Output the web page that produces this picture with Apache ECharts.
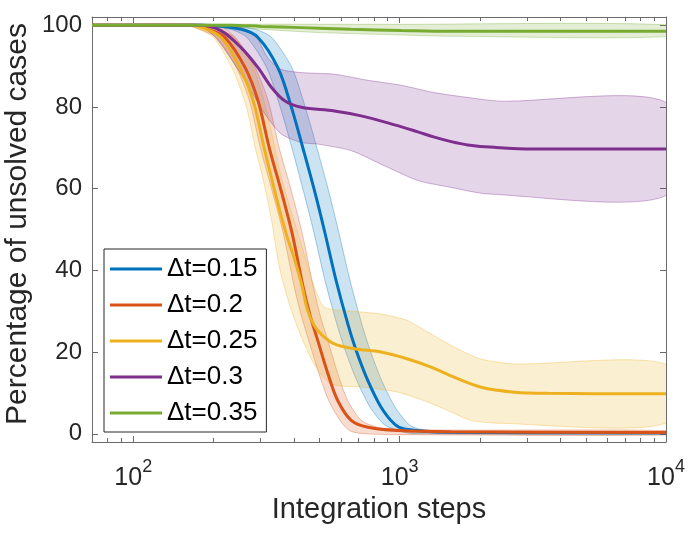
<!DOCTYPE html>
<html>
<head>
<meta charset="utf-8">
<script src="https://cdn.jsdelivr.net/npm/echarts@6/dist/echarts.min.js"></script>
<style>html,body{margin:0;padding:0;background:#fff}#chart{width:688px;height:537px}</style>
</head>
<body>
<div id="chart"></div>
<script>
// ---- tick values ----
const xTicksMajor = [100, 1000, 10000];
const xTicksMinor = [80, 90, 200, 300, 400, 500, 600, 700, 800, 900, 2000, 3000, 4000, 5000, 6000, 7000, 8000, 9000];
const yTicks = [0, 20, 40, 60, 80, 100];

// ---- series names ----
const seriesNames = ['Δt=0.15', 'Δt=0.2', 'Δt=0.25', 'Δt=0.3', 'Δt=0.35'];

// ---- Δt=0.15 (mean, upper, lower) : [integration steps, % unsolved] ----
const mean015 = [[70,100],[180,100],[254,99],[294,97],[349,89.6],[392,80],[433,70],[479,59.5],[522,49.7],[578,37.4],[639,26.9],[687,20.4],[760,13],[852,6.5],[956,2.4],[1042,1.2],[1494,0.4],[10000,0.2]];
const upper015 = [[70,100],[233,100],[287,99],[331,97],[394,89.6],[442,80],[489,70],[541,59.5],[589,49.7],[652,37.4],[721,26.9],[775,20.4],[857,13],[962,6.5],[1079,2.4],[1177,1.2],[1494,0.6],[10000,0.5]];
const lower015 = [[70,100],[165,100],[231,99],[267,97],[317,89.6],[356,80],[394,70],[435,59.5],[475,49.7],[525,37.4],[581,26.9],[625,20.4],[691,13],[775,6.5],[869,2.4],[945,1.2],[1105,0.1],[10000,0]];

// ---- Δt=0.2 ----
const mean020 = [[70,100],[172,100],[191,99],[221,97],[263,89.6],[294,81.5],[324,70],[359,59.5],[395,49],[434,36],[461,29],[493,22.8],[538,14.7],[586,8.1],[658,3.3],[760,1.6],[984,0.8],[1561,0.5],[10000,0.3]];
const upper020 = [[70,100],[190,100],[208,99],[241,97],[287,89.6],[321,81.5],[353,70],[392,59.5],[431,49],[474,36],[503,29],[538,22.8],[586,14.7],[639,8.1],[717,3.3],[828,1.6],[1013,1.1],[1561,0.9],[10000,0.8]];
const lower020 = [[70,100],[160,100],[177,99],[205,97],[244,89.6],[273,81.5],[300,70],[332,59.5],[366,49],[402,36],[427,29],[456,22.8],[498,14.7],[542,8.1],[609,2.5],[658,0.6],[749,0],[1013,-0.2],[10000,-0.3]];

// ---- Δt=0.25 ----
const mean025 = [[70,100],[165,100],[180,99.5],[214,97],[254,89],[282,81.5],[310,70],[344,58],[375,49],[402,43],[427,37],[452,30.1],[478,26.5],[507,24.4],[569,22],[677,20.8],[852,20],[1073,18.3],[1313,16.3],[1606,13.8],[2022,11.4],[2697,10.2],[3598,9.9],[10000,9.8]];
const upper025 = [[70,100],[205,100],[233,98],[273,92],[308,82],[335,72],[359,63],[381,57],[427,46.5],[479,35.8],[522,31],[639,30.1],[852,29.3],[1073,27.7],[1313,24.4],[1606,21.2],[2022,18.3],[2697,17.1],[10000,17]];
const lower025 = [[70,100],[150,100],[168,99.5],[200,97],[237,89],[266,80],[287,70],[308,62],[331,52],[353,41],[382,32.6],[420,25],[478,17],[553,12.2],[738,11.4],[984,10.2],[1239,8.1],[1517,5.7],[1855,3.3],[2336,2.6],[10000,2.6]];

// ---- Δt=0.3 ----
const mean030 = [[70,100],[180,100],[214,98.6],[254,94.5],[294,89.6],[331,84.7],[370,81.5],[427,79.9],[569,79],[717,77.8],[903,76.1],[1170,73.9],[1351,72.6],[1561,71.5],[1803,70.7],[2268,70.1],[3205,69.7],[10000,69.7]];
const upper030 = [[70,100],[220,100],[254,99.5],[290,97],[320,92],[359,89.2],[427,88.4],[568,88],[762,86.5],[1013,85.3],[1348,83.5],[1807,82.3],[2404,81.4],[10000,81.1]];
const lower030 = [[70,100],[170,100],[201,97.4],[254,88],[310,78.6],[359,73.4],[427,71.3],[493,70.9],[658,69.3],[877,65.6],[1170,62],[1561,60.3],[2143,58.7],[10000,58.3]];

// ---- Δt=0.35 ----
const mean035 = [[70,100],[233,100],[302,99.7],[427,99.4],[658,99],[1013,98.7],[1561,98.5],[10000,98.5]];
const upper035 = [[70,100.2],[1000,100.2],[10000,100.1]];
const lower035 = [[70,99.9],[214,99.8],[302,99],[500,98.2],[1013,97.6],[1561,97.3],[10000,97.2]];

const colors = ['#0072BD', '#D95319', '#EDB120', '#7E2F8E', '#77AC30'];
const means = [mean015, mean020, mean025, mean030, mean035];
const uppers = [upper015, upper020, upper025, upper030, upper035];
const lowers = [lower015, lower020, lower025, lower030, lower035];

const X_MIN = 70, X_MAX = 10000, Y_MIN = -2, Y_MAX = 102;
const FONT = "'Liberation Sans', Arial, Helvetica, sans-serif";
const AXIS_COLOR = '#6b6b6b';
const TEXT_COLOR = '#262626';

function rgba(hex, a) {
  const n = parseInt(hex.slice(1), 16);
  return 'rgba(' + ((n >> 16) & 255) + ',' + ((n >> 8) & 255) + ',' + (n & 255) + ',' + a + ')';
}

function bandSeries(upper, lower, color) {
  return {
    type: 'custom',
    silent: true,
    clip: true,
    xAxisIndex: 0, yAxisIndex: 0,
    data: [upper[0]],
    renderItem: function (params, api) {
      const pts = upper.map(p => api.coord(p)).concat(lower.slice().reverse().map(p => api.coord(p)));
      return {
        type: 'polygon',
        shape: { points: pts, smooth: 0.25 },
        style: { fill: rgba(color, 0.2), stroke: rgba(color, 0.35), lineWidth: 1 }
      };
    }
  };
}

const series = [];
for (let i = 0; i < 5; i++) {
  series.push(bandSeries(uppers[i], lowers[i], colors[i]));
  series.push({
    type: 'line',
    name: seriesNames[i],
    data: means[i],
    showSymbol: false,
    symbol: 'none',
    smooth: 0.35,
    lineStyle: { width: 3, color: colors[i] },
    itemStyle: { color: colors[i] },
    emphasis: { disabled: true }
  });
}
// minor ticks of the log axis (bottom and top)
series.push({
  type: 'custom',
  silent: true,
  xAxisIndex: 0, yAxisIndex: 0,
  z: 10,
  data: xTicksMinor.map(v => [v, Y_MIN]),
  renderItem: function (params, api) {
    const v = api.value(0);
    const b = api.coord([v, Y_MIN]);
    const t = api.coord([v, Y_MAX]);
    const x = Math.round(b[0]) + 0.5;
    return {
      type: 'group',
      children: [
        { type: 'line', shape: { x1: x, y1: b[1], x2: x, y2: b[1] - 4 }, style: { stroke: AXIS_COLOR, lineWidth: 1 } },
        { type: 'line', shape: { x1: x, y1: t[1], x2: x, y2: t[1] + 4 }, style: { stroke: AXIS_COLOR, lineWidth: 1 } }
      ]
    };
  }
});

function logLabel(value) {
  const e = Math.round(Math.log10(value));
  if (Math.abs(Math.log10(value) - e) > 1e-6 || xTicksMajor.indexOf(Math.pow(10, e)) < 0) return '';
  return '{b|10}{s|' + e + '}';
}

const baseX = {
  type: 'log', logBase: 10, min: X_MIN, max: X_MAX,
  splitLine: { show: false }, minorTick: { show: false }, minorSplitLine: { show: false },
  axisLine: { show: true, onZero: false, lineStyle: { color: AXIS_COLOR, width: 1 } },
  axisTick: { show: true, inside: true, length: 6, lineStyle: { color: AXIS_COLOR, width: 1 } }
};
const baseY = {
  type: 'value', min: Y_MIN, max: Y_MAX, splitNumber: 5,
  splitLine: { show: false },
  axisLine: { show: true, onZero: false, lineStyle: { color: AXIS_COLOR, width: 1 } },
  axisTick: { show: true, inside: true, length: 6, customValues: yTicks, lineStyle: { color: AXIS_COLOR, width: 1 } }
};

const option = {
  animation: false,
  backgroundColor: '#ffffff',
  textStyle: { fontFamily: FONT },
  grid: { left: 92, right: 22, top: 17, bottom: 95, containLabel: false, outerBoundsMode: 'none' },
  xAxis: [
    Object.assign({}, baseX, {
      position: 'bottom',
      name: 'Integration steps',
      nameLocation: 'middle',
      nameGap: 49,
      nameTextStyle: { fontSize: 29, color: TEXT_COLOR, fontFamily: FONT },
      axisLabel: {
        show: true, margin: 16, showMinLabel: false, showMaxLabel: true,
        formatter: logLabel,
        rich: {
          b: { fontSize: 25, fontFamily: FONT, color: TEXT_COLOR, lineHeight: 33, verticalAlign: 'bottom' },
          s: { fontSize: 18, fontFamily: FONT, color: TEXT_COLOR, lineHeight: 6, verticalAlign: 'top' }
        }
      }
    }),
    Object.assign({}, baseX, { position: 'top', axisLabel: { show: false } })
  ],
  yAxis: [
    Object.assign({}, baseY, {
      position: 'left',
      axisLabel: {
        show: true, customValues: yTicks, margin: 10, fontSize: 24, fontFamily: FONT, color: TEXT_COLOR,
        formatter: v => (yTicks.indexOf(v) >= 0 ? String(v) : '')
      }
    }),
    Object.assign({}, baseY, { position: 'right', axisLabel: { show: false } })
  ],
  legend: {
    data: seriesNames,
    orient: 'vertical',
    left: 104, top: 249,
    padding: [7, 9, 6, 6],
    itemGap: 10,
    itemWidth: 52, itemHeight: 3,
    icon: 'rect',
    selectedMode: false,
    backgroundColor: '#ffffff',
    borderColor: '#262626', borderWidth: 1, borderRadius: 0,
    textStyle: { fontSize: 26, fontFamily: FONT, color: '#000000', lineHeight: 24 }
  },
  graphic: [{
    type: 'text',
    x: 18, y: 224,
    rotation: Math.PI / 2,
    style: {
      text: 'Percentage of unsolved cases',
      font: "30px 'Liberation Sans', Arial, sans-serif",
      fill: TEXT_COLOR,
      align: 'center',
      verticalAlign: 'middle'
    }
  }],
  series: series
};

const chart = echarts.init(document.getElementById('chart'), null, { renderer: 'canvas' });
chart.setOption(option);
</script>
</body>
</html>
